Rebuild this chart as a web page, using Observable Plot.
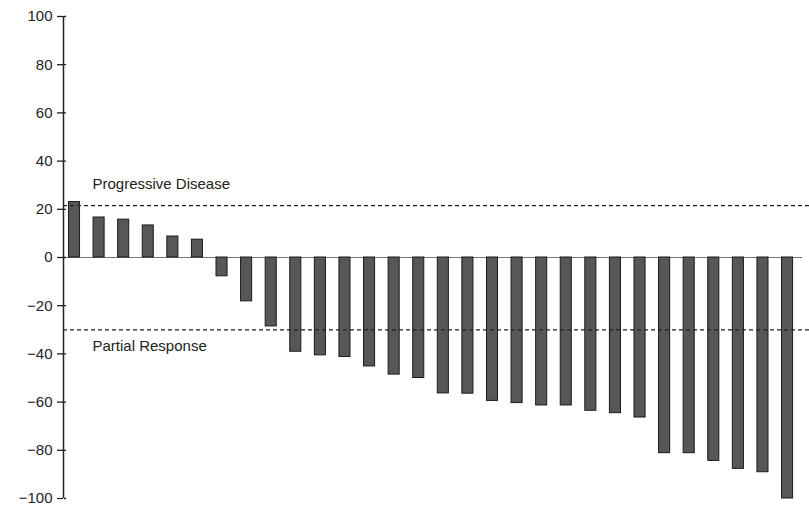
<!DOCTYPE html>
<html>
<head>
<meta charset="utf-8">
<script src="https://cdn.jsdelivr.net/npm/d3@7"></script>
<script src="https://cdn.jsdelivr.net/npm/@observablehq/plot@0.6"></script>
<style>
  html, body { margin: 0; padding: 0; background: #fff; }
  svg { display: block; }
</style>
</head>
<body>
<div id="chart"></div>
<script>
const patients = d3.range(1, 31);
const change = [23, 16.6, 15.7, 13.3, 8.7, 7.4, -7.8, -18.2, -28.6, -39.1,
  -40.6, -41.3, -45.2, -48.6, -50, -56.4, -56.5, -59.5, -60.4, -61.4,
  -61.4, -63.6, -64.6, -66.4, -81.2, -81.2, -84.4, -87.7, -89.1, -100];
const thresholds = [21.5, -30];
const thresholdLabels = ["Progressive Disease", "Partial Response"];
const yTicks = [-100, -80, -60, -40, -20, 0, 20, 40, 60, 80, 100];

const data = patients.map((p, i) => ({patient: p, value: change[i]}));
const labels = thresholds.map((t, i) => ({y: t, label: thresholdLabels[i]}));

const chart = Plot.plot({
  width: 809,
  height: 505,
  marginLeft: 63,
  marginRight: 0,
  marginTop: 16,
  marginBottom: 7,
  style: {fontFamily: "'Liberation Sans', Arial, sans-serif", background: "#fff", color: "#222"},
  x: {type: "band", domain: patients, paddingInner: 0.55, paddingOuter: 0.445, align: 0.25, round: false, axis: null},
  y: {domain: [-100, 100]},
  marks: [
    Plot.ruleY([0], {stroke: "#777", strokeWidth: 1, insetRight: 7}),
    Plot.barY(data, {x: "patient", y: "value", fill: "#575757", stroke: "#1a1a1a", strokeWidth: 1}),
    Plot.ruleY(thresholds, {stroke: "#222", strokeWidth: 1.3, strokeDasharray: "4,3"}),
    Plot.text([labels[0]], {y: "y", text: "label", frameAnchor: "left", dx: 29, dy: -21, textAnchor: "start", fontSize: 15, fill: "#222"}),
    Plot.text([labels[1]], {y: "y", text: "label", frameAnchor: "left", dx: 29, dy: 16, textAnchor: "start", fontSize: 15, fill: "#222"}),
    Plot.axisY({ticks: yTicks, tickSize: 6, tickPadding: 5, fontSize: 15, stroke: "#222", fill: "#222", strokeWidth: 1.3}),
    Plot.axisY({ticks: yTicks, tickSize: 2, text: null, anchor: "right", dx: -(809 - 63), stroke: "#222", strokeWidth: 1.3}),
    Plot.ruleX([patients[0]], {x: d => d, y1: -100, y2: 100, dx: -11, stroke: "#222", strokeWidth: 1.5})
  ]
});
document.getElementById("chart").appendChild(chart);
</script>
</body>
</html>
